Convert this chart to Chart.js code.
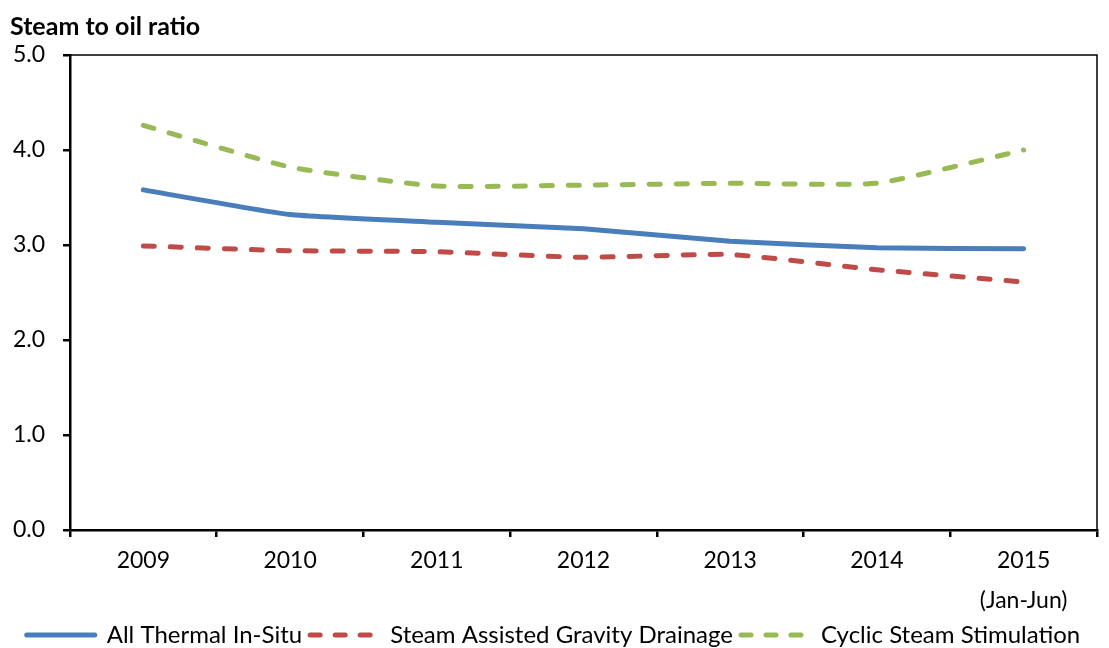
<!DOCTYPE html>
<html>
<head>
<meta charset="utf-8">
<script src="https://cdn.jsdelivr.net/npm/chart.js@4.4.0/dist/chart.umd.min.js"></script>
<style>
  html, body { margin: 0; padding: 0; background: #fff; }
  #wrap { width: 1109px; height: 648px; }
</style>
</head>
<body>
<div id="wrap"><canvas id="chart"></canvas></div>
<script>
// Values
const years = ['2009', '2010', '2011', '2012', '2013', '2014', ['2015', '(Jan-Jun)']];
const allThermal = [3.58, 3.32, 3.24, 3.17, 3.04, 2.97, 2.96];
const sagd = [2.99, 2.94, 2.93, 2.87, 2.90, 2.74, 2.61];
const css = [4.26, 3.82, 3.62, 3.63, 3.65, 3.65, 4.00];

const FONT = 'Lato, "Noto Sans", sans-serif';

// top and right frame of the plot area
const frame = {
  id: 'frame',
  afterDraw(chart) {
    const a = chart.chartArea;
    const ctx = chart.ctx;
    ctx.save();
    ctx.strokeStyle = '#000';
    ctx.lineWidth = 1.5;
    ctx.beginPath();
    ctx.moveTo(a.left, a.top);
    ctx.lineTo(a.right, a.top);
    ctx.lineTo(a.right, a.bottom);
    ctx.stroke();
    ctx.restore();
  }
};

new Chart(document.getElementById('chart'), {
  type: 'line',
  data: {
    labels: years,
    datasets: [
      {
        label: 'All Thermal In-Situ',
        data: allThermal,
        borderColor: '#4A7EBB',
        backgroundColor: '#4A7EBB',
        borderWidth: 5,
        borderCapStyle: 'round',
        tension: 0.15,
        pointRadius: 0
      },
      {
        label: 'Steam Assisted Gravity Drainage',
        data: sagd,
        borderColor: '#BE4B48',
        backgroundColor: '#BE4B48',
        borderWidth: 5,
        borderDash: [11, 16],
        borderCapStyle: 'round',
        tension: 0.15,
        pointRadius: 0
      },
      {
        label: 'Cyclic Steam Stimulation',
        data: css,
        borderColor: '#98B954',
        backgroundColor: '#98B954',
        borderWidth: 5,
        borderDash: [11, 16],
        borderCapStyle: 'round',
        tension: 0.15,
        pointRadius: 0
      }
    ]
  },
  options: {
    responsive: true,
    maintainAspectRatio: false,
    animation: false,
    layout: {
      padding: { left: 10, right: 12, top: 0, bottom: -9 }
    },
    plugins: {
      title: {
        display: true,
        text: 'Steam to oil ratio',
        align: 'start',
        color: '#000',
        font: { family: FONT, size: 25, weight: 'bold' },
        padding: { top: 12, bottom: 13 }
      },
      legend: {
        position: 'bottom',
        labels: {
          color: '#000',
          font: { family: FONT, size: 24 },
          usePointStyle: true,
          pointStyle: 'line',
          pointStyleWidth: 68,
          padding: 8,
          generateLabels: function(chart) {
            return chart.data.datasets.map(function(ds, i) {
              return {
                text: ds.label,
                datasetIndex: i,
                fillStyle: ds.borderColor,
                strokeStyle: ds.borderColor,
                fontColor: '#000',
                lineWidth: 5,
                lineCap: 'round',
                lineDash: ds.borderDash ? [10, 15] : [],
                pointStyle: 'line',
                hidden: false
              };
            });
          }
        }
      },
      tooltip: { enabled: false }
    },
    scales: {
      x: {
        offset: true,
        grid: {
          offset: true,
          drawOnChartArea: false,
          color: '#000',
          lineWidth: 2.5,
          tickLength: 7
        },
        border: { color: '#000', width: 2.5 },
        ticks: {
          color: '#000',
          font: { family: FONT, size: 23, lineHeight: 1.72 },
          maxRotation: 0,
          padding: 4
        },
        afterFit: function(scale) {
          scale.height = 85;
        }
      },
      y: {
        min: 0,
        max: 5,
        grid: {
          drawOnChartArea: false,
          color: '#000',
          lineWidth: 2.5,
          tickLength: 7
        },
        border: { color: '#000', width: 2.5 },
        ticks: {
          stepSize: 1,
          color: '#000',
          font: { family: FONT, size: 23 },
          padding: 18,
          callback: function(value) {
            return value.toFixed(1);
          }
        },
        afterFit: function(scale) {
          scale.width = 60;
        }
      }
    }
  },
  plugins: [frame]
});
</script>
</body>
</html>
